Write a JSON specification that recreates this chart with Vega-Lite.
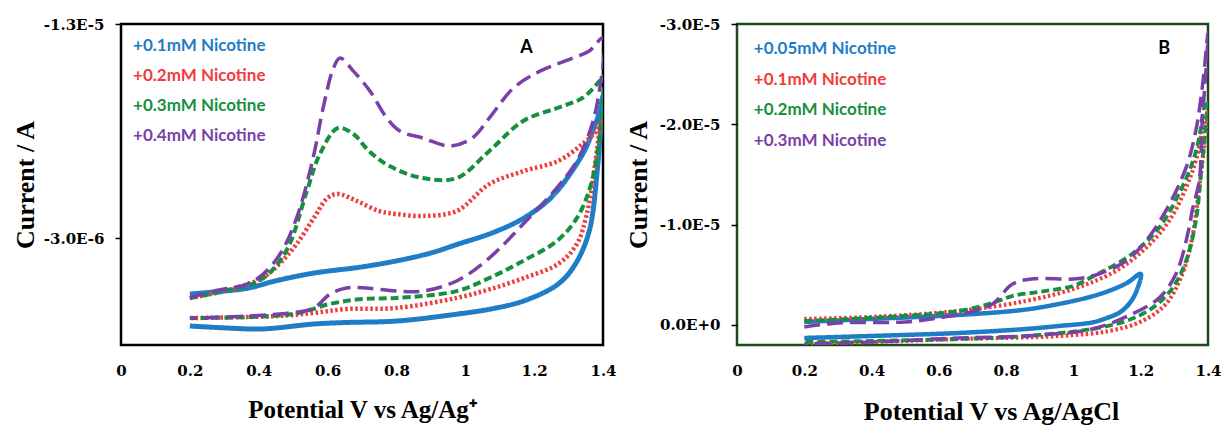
{
  "$schema": "https://vega.github.io/schema/vega-lite/v6.json",
  "background": "white",
  "padding": {"left": 11, "top": 15, "right": 0, "bottom": 0},
  "bounds": "flush",
  "spacing": 134,
  "config": {
    "axis": {"domain": false, "grid": false, "labelFont": "DejaVu Serif", "labelFontWeight": "bold", "labelFontSize": 15, "labelColor": "#000", "titleFont": "Liberation Serif", "titleFontWeight": "bold", "titleColor": "#000", "tickColor": "#000", "tickWidth": 1.5, "labelFlush": false},
    "axisX": {"ticks": false, "labelPadding": 18, "titlePadding": 19, "titleFontSize": 25},
    "axisY": {"ticks": true, "tickSize": 6, "labelPadding": 11, "titleFontSize": 26}
  },
  "datasets": {
    "cvA": [
      {"s":"0.1mM","o":1,"V":0.2,"I":-0.38e-6},{"s":"0.1mM","o":2,"V":0.3,"I":-0.52e-6},{"s":"0.1mM","o":3,"V":0.37,"I":-0.66e-6},{"s":"0.1mM","o":4,"V":0.45,"I":-1.0e-6},{"s":"0.1mM","o":5,"V":0.56,"I":-1.36e-6},{"s":"0.1mM","o":6,"V":0.7,"I":-1.65e-6},{"s":"0.1mM","o":7,"V":0.8,"I":-1.93e-6},{"s":"0.1mM","o":8,"V":0.9,"I":-2.3e-6},{"s":"0.1mM","o":9,"V":0.98,"I":-2.72e-6},{"s":"0.1mM","o":10,"V":1.08,"I":-3.25e-6},{"s":"0.1mM","o":11,"V":1.17,"I":-3.93e-6},{"s":"0.1mM","o":12,"V":1.25,"I":-4.9e-6},{"s":"0.1mM","o":13,"V":1.31,"I":-6.13e-6},{"s":"0.1mM","o":14,"V":1.35,"I":-7.2e-6},{"s":"0.1mM","o":15,"V":1.37,"I":-8.0e-6},{"s":"0.1mM","o":16,"V":1.39,"I":-8.9e-6},{"s":"0.1mM","o":17,"V":1.4,"I":-9.64e-6},
      {"s":"0.1mM","o":18,"V":1.397,"I":-9.0e-6},{"s":"0.1mM","o":19,"V":1.385,"I":-6.46e-6},{"s":"0.1mM","o":20,"V":1.36,"I":-3.33e-6},{"s":"0.1mM","o":21,"V":1.32,"I":-1.79e-6},{"s":"0.1mM","o":22,"V":1.27,"I":-0.85e-6},{"s":"0.1mM","o":23,"V":1.17,"I":-0.06e-6},{"s":"0.1mM","o":24,"V":1.08,"I":0.3e-6},{"s":"0.1mM","o":25,"V":0.98,"I":0.55e-6},{"s":"0.1mM","o":26,"V":0.8,"I":0.88e-6},{"s":"0.1mM","o":27,"V":0.65,"I":0.95e-6},{"s":"0.1mM","o":28,"V":0.56,"I":1.02e-6},{"s":"0.1mM","o":29,"V":0.41,"I":1.25e-6},{"s":"0.1mM","o":30,"V":0.3,"I":1.2e-6},{"s":"0.1mM","o":31,"V":0.2,"I":1.11e-6},

      {"s":"0.2mM","o":1,"V":0.2,"I":-0.2e-6},{"s":"0.2mM","o":2,"V":0.3,"I":-0.52e-6},{"s":"0.2mM","o":3,"V":0.41,"I":-1.13e-6},{"s":"0.2mM","o":4,"V":0.46,"I":-1.79e-6},{"s":"0.2mM","o":5,"V":0.51,"I":-2.72e-6},{"s":"0.2mM","o":6,"V":0.56,"I":-3.93e-6},{"s":"0.2mM","o":7,"V":0.6,"I":-4.87e-6},{"s":"0.2mM","o":8,"V":0.63,"I":-5.06e-6},{"s":"0.2mM","o":9,"V":0.685,"I":-4.73e-6},{"s":"0.2mM","o":10,"V":0.75,"I":-4.26e-6},{"s":"0.2mM","o":11,"V":0.8,"I":-4.12e-6},{"s":"0.2mM","o":12,"V":0.877,"I":-4.03e-6},{"s":"0.2mM","o":13,"V":0.975,"I":-4.26e-6},{"s":"0.2mM","o":14,"V":1.07,"I":-5.52e-6},{"s":"0.2mM","o":15,"V":1.17,"I":-6.13e-6},{"s":"0.2mM","o":16,"V":1.27,"I":-6.6e-6},{"s":"0.2mM","o":17,"V":1.34,"I":-7.39e-6},{"s":"0.2mM","o":18,"V":1.38,"I":-8.0e-6},{"s":"0.2mM","o":19,"V":1.4,"I":-8.7e-6},
      {"s":"0.2mM","o":20,"V":1.39,"I":-8.0e-6},{"s":"0.2mM","o":21,"V":1.377,"I":-6.46e-6},{"s":"0.2mM","o":22,"V":1.353,"I":-4.12e-6},{"s":"0.2mM","o":23,"V":1.324,"I":-2.72e-6},{"s":"0.2mM","o":24,"V":1.27,"I":-1.79e-6},{"s":"0.2mM","o":25,"V":1.17,"I":-1.13e-6},{"s":"0.2mM","o":26,"V":1.07,"I":-0.6e-6},{"s":"0.2mM","o":27,"V":0.975,"I":-0.2e-6},{"s":"0.2mM","o":28,"V":0.8,"I":0.27e-6},{"s":"0.2mM","o":29,"V":0.655,"I":0.32e-6},{"s":"0.2mM","o":30,"V":0.56,"I":0.5e-6},{"s":"0.2mM","o":31,"V":0.46,"I":0.64e-6},{"s":"0.2mM","o":32,"V":0.2,"I":0.74e-6},

      {"s":"0.3mM","o":1,"V":0.2,"I":-0.2e-6},{"s":"0.3mM","o":2,"V":0.3,"I":-0.52e-6},{"s":"0.3mM","o":3,"V":0.4,"I":-0.99e-6},{"s":"0.3mM","o":4,"V":0.45,"I":-1.69e-6},{"s":"0.3mM","o":5,"V":0.49,"I":-2.72e-6},{"s":"0.3mM","o":6,"V":0.54,"I":-5.2e-6},{"s":"0.3mM","o":7,"V":0.578,"I":-6.93e-6},{"s":"0.3mM","o":8,"V":0.63,"I":-8.14e-6},{"s":"0.3mM","o":9,"V":0.675,"I":-7.86e-6},{"s":"0.3mM","o":10,"V":0.72,"I":-7.07e-6},{"s":"0.3mM","o":11,"V":0.78,"I":-6.36e-6},{"s":"0.3mM","o":12,"V":0.877,"I":-5.8e-6},{"s":"0.3mM","o":13,"V":0.975,"I":-5.8e-6},{"s":"0.3mM","o":14,"V":1.07,"I":-7.07e-6},{"s":"0.3mM","o":15,"V":1.168,"I":-8.47e-6},{"s":"0.3mM","o":16,"V":1.266,"I":-9.07e-6},{"s":"0.3mM","o":17,"V":1.34,"I":-9.54e-6},{"s":"0.3mM","o":18,"V":1.39,"I":-10.34e-6},{"s":"0.3mM","o":19,"V":1.4,"I":-10.57e-6},
      {"s":"0.3mM","o":20,"V":1.397,"I":-8.79e-6},{"s":"0.3mM","o":21,"V":1.386,"I":-7.21e-6},{"s":"0.3mM","o":22,"V":1.362,"I":-5.34e-6},{"s":"0.3mM","o":23,"V":1.324,"I":-3.93e-6},{"s":"0.3mM","o":24,"V":1.266,"I":-2.86e-6},{"s":"0.3mM","o":25,"V":1.168,"I":-1.93e-6},{"s":"0.3mM","o":26,"V":1.07,"I":-1.13e-6},{"s":"0.3mM","o":27,"V":0.975,"I":-0.52e-6},{"s":"0.3mM","o":28,"V":0.8,"I":-0.2e-6},{"s":"0.3mM","o":29,"V":0.7,"I":-0.15e-6},{"s":"0.3mM","o":30,"V":0.607,"I":0.08e-6},{"s":"0.3mM","o":31,"V":0.5,"I":0.55e-6},{"s":"0.3mM","o":32,"V":0.2,"I":0.74e-6},

      {"s":"0.4mM","o":1,"V":0.2,"I":-0.2e-6},{"s":"0.4mM","o":2,"V":0.27,"I":-0.52e-6},{"s":"0.4mM","o":3,"V":0.366,"I":-0.85e-6},{"s":"0.4mM","o":4,"V":0.413,"I":-1.32e-6},{"s":"0.4mM","o":5,"V":0.462,"I":-2.25e-6},{"s":"0.4mM","o":6,"V":0.51,"I":-3.93e-6},{"s":"0.4mM","o":7,"V":0.558,"I":-6.74e-6},{"s":"0.4mM","o":8,"V":0.587,"I":-9.07e-6},{"s":"0.4mM","o":9,"V":0.617,"I":-10.94e-6},{"s":"0.4mM","o":10,"V":0.636,"I":-11.41e-6},{"s":"0.4mM","o":11,"V":0.675,"I":-10.8e-6},{"s":"0.4mM","o":12,"V":0.723,"I":-9.87e-6},{"s":"0.4mM","o":13,"V":0.772,"I":-8.61e-6},{"s":"0.4mM","o":14,"V":0.81,"I":-8.0e-6},{"s":"0.4mM","o":15,"V":0.877,"I":-7.67e-6},{"s":"0.4mM","o":16,"V":0.955,"I":-7.3e-6},{"s":"0.4mM","o":17,"V":1.02,"I":-7.67e-6},{"s":"0.4mM","o":18,"V":1.07,"I":-8.61e-6},{"s":"0.4mM","o":19,"V":1.14,"I":-10.01e-6},{"s":"0.4mM","o":20,"V":1.217,"I":-10.8e-6},{"s":"0.4mM","o":21,"V":1.313,"I":-11.41e-6},{"s":"0.4mM","o":22,"V":1.36,"I":-11.74e-6},{"s":"0.4mM","o":23,"V":1.4,"I":-12.35e-6},
      {"s":"0.4mM","o":24,"V":1.386,"I":-9.54e-6},{"s":"0.4mM","o":25,"V":1.362,"I":-8.0e-6},{"s":"0.4mM","o":26,"V":1.324,"I":-6.6e-6},{"s":"0.4mM","o":27,"V":1.266,"I":-5.34e-6},{"s":"0.4mM","o":28,"V":1.168,"I":-3.65e-6},{"s":"0.4mM","o":29,"V":1.07,"I":-2.07e-6},{"s":"0.4mM","o":30,"V":0.975,"I":-0.99e-6},{"s":"0.4mM","o":31,"V":0.877,"I":-0.52e-6},{"s":"0.4mM","o":32,"V":0.8,"I":-0.52e-6},{"s":"0.4mM","o":33,"V":0.713,"I":-0.66e-6},{"s":"0.4mM","o":34,"V":0.655,"I":-0.66e-6},{"s":"0.4mM","o":35,"V":0.607,"I":-0.38e-6},{"s":"0.4mM","o":36,"V":0.56,"I":0.27e-6},{"s":"0.4mM","o":37,"V":0.46,"I":0.55e-6},{"s":"0.4mM","o":38,"V":0.2,"I":0.74e-6}
    ],
    "cvB": [
      {"s":"0.05mM","o":1,"V":0.2,"I":-0.3e-6},{"s":"0.05mM","o":2,"V":0.4,"I":-0.6e-6},{"s":"0.05mM","o":3,"V":0.66,"I":-1.0e-6},{"s":"0.05mM","o":4,"V":0.85,"I":-1.5e-6},{"s":"0.05mM","o":5,"V":0.958,"I":-2.1e-6},{"s":"0.05mM","o":6,"V":1.05,"I":-2.8e-6},{"s":"0.05mM","o":7,"V":1.106,"I":-3.4e-6},{"s":"0.05mM","o":8,"V":1.16,"I":-4.2e-6},{"s":"0.05mM","o":9,"V":1.2,"I":-5.1e-6},
      {"s":"0.05mM","o":10,"V":1.19,"I":-3.6e-6},{"s":"0.05mM","o":11,"V":1.17,"I":-2.3e-6},{"s":"0.05mM","o":12,"V":1.14,"I":-1.3e-6},{"s":"0.05mM","o":13,"V":1.1,"I":-0.7e-6},{"s":"0.05mM","o":14,"V":1.056,"I":-0.25e-6},{"s":"0.05mM","o":15,"V":0.958,"I":0.1e-6},{"s":"0.05mM","o":16,"V":0.86,"I":0.4e-6},{"s":"0.05mM","o":17,"V":0.66,"I":0.8e-6},{"s":"0.05mM","o":18,"V":0.4,"I":1.1e-6},{"s":"0.05mM","o":19,"V":0.2,"I":1.3e-6},

      {"s":"0.1mM","o":1,"V":0.2,"I":-0.6e-6},{"s":"0.1mM","o":2,"V":0.4,"I":-0.8e-6},{"s":"0.1mM","o":3,"V":0.66,"I":-1.4e-6},{"s":"0.1mM","o":4,"V":0.86,"I":-2.4e-6},{"s":"0.1mM","o":5,"V":1.01,"I":-3.7e-6},{"s":"0.1mM","o":6,"V":1.127,"I":-5.4e-6},{"s":"0.1mM","o":7,"V":1.216,"I":-7.7e-6},{"s":"0.1mM","o":8,"V":1.285,"I":-10.4e-6},{"s":"0.1mM","o":9,"V":1.335,"I":-13.7e-6},{"s":"0.1mM","o":10,"V":1.364,"I":-16.4e-6},{"s":"0.1mM","o":11,"V":1.383,"I":-19.4e-6},{"s":"0.1mM","o":12,"V":1.4,"I":-21.4e-6},
      {"s":"0.1mM","o":13,"V":1.394,"I":-19.5e-6},{"s":"0.1mM","o":14,"V":1.374,"I":-13.7e-6},{"s":"0.1mM","o":15,"V":1.353,"I":-8.7e-6},{"s":"0.1mM","o":16,"V":1.324,"I":-5.1e-6},{"s":"0.1mM","o":17,"V":1.275,"I":-2.1e-6},{"s":"0.1mM","o":18,"V":1.205,"I":-0.4e-6},{"s":"0.1mM","o":19,"V":1.107,"I":0.6e-6},{"s":"0.1mM","o":20,"V":0.958,"I":1.1e-6},{"s":"0.1mM","o":21,"V":0.66,"I":1.4e-6},{"s":"0.1mM","o":22,"V":0.4,"I":1.7e-6},{"s":"0.1mM","o":23,"V":0.2,"I":1.9e-6},

      {"s":"0.2mM","o":1,"V":0.2,"I":-0.4e-6},{"s":"0.2mM","o":2,"V":0.45,"I":-0.8e-6},{"s":"0.2mM","o":3,"V":0.66,"I":-1.4e-6},{"s":"0.2mM","o":4,"V":0.76,"I":-2.2e-6},{"s":"0.2mM","o":5,"V":0.82,"I":-2.9e-6},{"s":"0.2mM","o":6,"V":0.9,"I":-3.3e-6},{"s":"0.2mM","o":7,"V":1.0,"I":-3.9e-6},{"s":"0.2mM","o":8,"V":1.056,"I":-4.8e-6},{"s":"0.2mM","o":9,"V":1.175,"I":-7.1e-6},{"s":"0.2mM","o":10,"V":1.255,"I":-9.7e-6},{"s":"0.2mM","o":11,"V":1.314,"I":-13.1e-6},{"s":"0.2mM","o":12,"V":1.353,"I":-16.1e-6},{"s":"0.2mM","o":13,"V":1.374,"I":-18.7e-6},{"s":"0.2mM","o":14,"V":1.389,"I":-21.7e-6},{"s":"0.2mM","o":15,"V":1.4,"I":-22.4e-6},
      {"s":"0.2mM","o":16,"V":1.392,"I":-19.4e-6},{"s":"0.2mM","o":17,"V":1.38,"I":-15.4e-6},{"s":"0.2mM","o":18,"V":1.364,"I":-10.4e-6},{"s":"0.2mM","o":19,"V":1.335,"I":-6.4e-6},{"s":"0.2mM","o":20,"V":1.295,"I":-3.7e-6},{"s":"0.2mM","o":21,"V":1.235,"I":-1.7e-6},{"s":"0.2mM","o":22,"V":1.157,"I":-0.4e-6},{"s":"0.2mM","o":23,"V":1.056,"I":0.4e-6},{"s":"0.2mM","o":24,"V":0.86,"I":1.1e-6},{"s":"0.2mM","o":25,"V":0.66,"I":1.4e-6},{"s":"0.2mM","o":26,"V":0.4,"I":1.6e-6},{"s":"0.2mM","o":27,"V":0.2,"I":1.7e-6},

      {"s":"0.3mM","o":1,"V":0.2,"I":0.2e-6},{"s":"0.3mM","o":2,"V":0.3,"I":-0.2e-6},{"s":"0.3mM","o":3,"V":0.5,"I":-0.3e-6},{"s":"0.3mM","o":4,"V":0.6,"I":-0.7e-6},{"s":"0.3mM","o":5,"V":0.709,"I":-1.4e-6},{"s":"0.3mM","o":6,"V":0.76,"I":-2.1e-6},{"s":"0.3mM","o":7,"V":0.82,"I":-4.1e-6},{"s":"0.3mM","o":8,"V":0.88,"I":-4.6e-6},{"s":"0.3mM","o":9,"V":1.01,"I":-4.6e-6},{"s":"0.3mM","o":10,"V":1.077,"I":-5.1e-6},{"s":"0.3mM","o":11,"V":1.157,"I":-6.4e-6},{"s":"0.3mM","o":12,"V":1.216,"I":-8.4e-6},{"s":"0.3mM","o":13,"V":1.275,"I":-11.4e-6},{"s":"0.3mM","o":14,"V":1.335,"I":-15.7e-6},{"s":"0.3mM","o":15,"V":1.364,"I":-19.4e-6},{"s":"0.3mM","o":16,"V":1.383,"I":-23.7e-6},{"s":"0.3mM","o":17,"V":1.4,"I":-29.1e-6},
      {"s":"0.3mM","o":18,"V":1.394,"I":-25.4e-6},{"s":"0.3mM","o":19,"V":1.383,"I":-20.4e-6},{"s":"0.3mM","o":20,"V":1.374,"I":-14.4e-6},{"s":"0.3mM","o":21,"V":1.353,"I":-11.4e-6},{"s":"0.3mM","o":22,"V":1.344,"I":-9.7e-6},{"s":"0.3mM","o":23,"V":1.305,"I":-5.1e-6},{"s":"0.3mM","o":24,"V":1.255,"I":-2.7e-6},{"s":"0.3mM","o":25,"V":1.175,"I":-1.1e-6},{"s":"0.3mM","o":26,"V":1.056,"I":0.4e-6},{"s":"0.3mM","o":27,"V":0.86,"I":1.1e-6},{"s":"0.3mM","o":28,"V":0.66,"I":1.3e-6},{"s":"0.3mM","o":29,"V":0.4,"I":1.7e-6},{"s":"0.3mM","o":30,"V":0.2,"I":1.9e-6}
    ],
    "legA": [
      {"t":"+0.1mM Nicotine","s":"0.1mM","V":0.035,"I":-11.97e-6},
      {"t":"+0.2mM Nicotine","s":"0.2mM","V":0.035,"I":-10.55e-6},
      {"t":"+0.3mM Nicotine","s":"0.3mM","V":0.035,"I":-9.17e-6},
      {"t":"+0.4mM Nicotine","s":"0.4mM","V":0.035,"I":-7.77e-6}
    ],
    "legB": [
      {"t":"+0.05mM Nicotine","s":"0.05mM","V":0.05,"I":-27.5e-6},
      {"t":"+0.1mM Nicotine","s":"0.1mM","V":0.05,"I":-24.4e-6},
      {"t":"+0.2mM Nicotine","s":"0.2mM","V":0.05,"I":-21.4e-6},
      {"t":"+0.3mM Nicotine","s":"0.3mM","V":0.05,"I":-18.3e-6}
    ],
    "tagA": [{"t":"A","V":1.178,"I":-11.9e-6}],
    "tagB": [{"t":"B","V":1.27,"I":-27.5e-6}]
  },
  "resolve": {"scale": {"x": "independent", "y": "independent", "color": "independent", "strokeDash": "independent", "strokeWidth": "independent"}},
  "hconcat": [
    {
      "width": 482,
      "height": 321,
      "view": {"stroke": "#000", "strokeWidth": 2.5},
      "encoding": {
        "x": {"field": "V", "type": "quantitative", "scale": {"domain": [0, 1.4], "nice": false, "zero": false}, "axis": {"values": [0, 0.2, 0.4, 0.6, 0.8, 1, 1.2, 1.4], "labelExpr": "format(datum.value, '~g')", "title": "Potential V vs Ag/Ag⁺"}},
        "y": {"field": "I", "type": "quantitative", "scale": {"domain": [-1.3e-5, 2e-6], "reverse": true, "nice": false, "zero": false}, "axis": {"values": [-1.3e-5, -3e-6], "labelExpr": "replace(replace(upper(format(datum.value, '.1e')), '−', '-'), '−', '-')", "title": "Current / A", "titlePadding": 5}}
      },
      "layer": [
        {
          "data": {"name": "cvA"},
          "mark": {"type": "line", "interpolate": "catmull-rom", "clip": true},
          "encoding": {
            "order": {"field": "o", "type": "quantitative"},
            "color": {"field": "s", "type": "nominal", "scale": {"domain": ["0.1mM", "0.2mM", "0.3mM", "0.4mM"], "range": ["#1f7cc6", "#f03c3c", "#17903e", "#7a3fa8"]}, "legend": null},
            "strokeDash": {"field": "s", "type": "nominal", "scale": {"domain": ["0.1mM", "0.2mM", "0.3mM", "0.4mM"], "range": [[1, 0], [2.5, 2.5], [8, 4], [16, 7]]}, "legend": null},
            "strokeWidth": {"field": "s", "type": "nominal", "scale": {"domain": ["0.1mM", "0.2mM", "0.3mM", "0.4mM"], "range": [5, 3.5, 5, 4.5]}, "legend": null}
          }
        },
        {
          "data": {"name": "legA"},
          "mark": {"type": "text", "align": "left", "baseline": "middle", "font": "Lato", "fontWeight": "bold", "fontSize": 17},
          "encoding": {
            "text": {"field": "t"},
            "color": {"field": "s", "type": "nominal", "legend": null}
          }
        },
        {
          "data": {"name": "tagA"},
          "mark": {"type": "text", "align": "center", "baseline": "middle", "font": "Lato", "fontWeight": "bold", "fontSize": 18, "color": "#000"},
          "encoding": {"text": {"field": "t"}}
        }
      ]
    },
    {
      "width": 471,
      "height": 321,
      "view": {"stroke": "#1d4a1d", "strokeWidth": 2.5},
      "encoding": {
        "x": {"field": "V", "type": "quantitative", "scale": {"domain": [0, 1.4], "nice": false, "zero": false}, "axis": {"values": [0, 0.2, 0.4, 0.6, 0.8, 1, 1.2, 1.4], "labelExpr": "format(datum.value, '~g')", "title": "Potential V vs Ag/AgCl", "titleFontSize": 26, "titleX": 254, "titlePadding": 20}},
        "y": {"field": "I", "type": "quantitative", "scale": {"domain": [-3e-5, 2e-6], "reverse": true, "nice": false, "zero": false}, "axis": {"values": [-3e-5, -2e-5, -1e-5, 0], "labelExpr": "replace(replace(upper(format(datum.value, '.1e')), '−', '-'), '−', '-')", "title": "Current / A", "titlePadding": 8}}
      },
      "layer": [
        {
          "data": {"name": "cvB"},
          "mark": {"type": "line", "interpolate": "catmull-rom", "clip": true},
          "encoding": {
            "order": {"field": "o", "type": "quantitative"},
            "color": {"field": "s", "type": "nominal", "scale": {"domain": ["0.05mM", "0.1mM", "0.2mM", "0.3mM"], "range": ["#1f7cc6", "#f03c3c", "#17903e", "#7a3fa8"]}, "legend": null},
            "strokeDash": {"field": "s", "type": "nominal", "scale": {"domain": ["0.05mM", "0.1mM", "0.2mM", "0.3mM"], "range": [[1, 0], [2.5, 2.5], [8, 4], [16, 7]]}, "legend": null},
            "strokeWidth": {"field": "s", "type": "nominal", "scale": {"domain": ["0.05mM", "0.1mM", "0.2mM", "0.3mM"], "range": [4.5, 3.5, 5, 4.5]}, "legend": null}
          }
        },
        {
          "data": {"name": "legB"},
          "mark": {"type": "text", "align": "left", "baseline": "middle", "font": "Lato", "fontWeight": "bold", "fontSize": 17},
          "encoding": {
            "text": {"field": "t"},
            "color": {"field": "s", "type": "nominal", "legend": null}
          }
        },
        {
          "data": {"name": "tagB"},
          "mark": {"type": "text", "align": "center", "baseline": "middle", "font": "Lato", "fontWeight": "bold", "fontSize": 18, "color": "#000"},
          "encoding": {"text": {"field": "t"}}
        }
      ]
    }
  ]
}
